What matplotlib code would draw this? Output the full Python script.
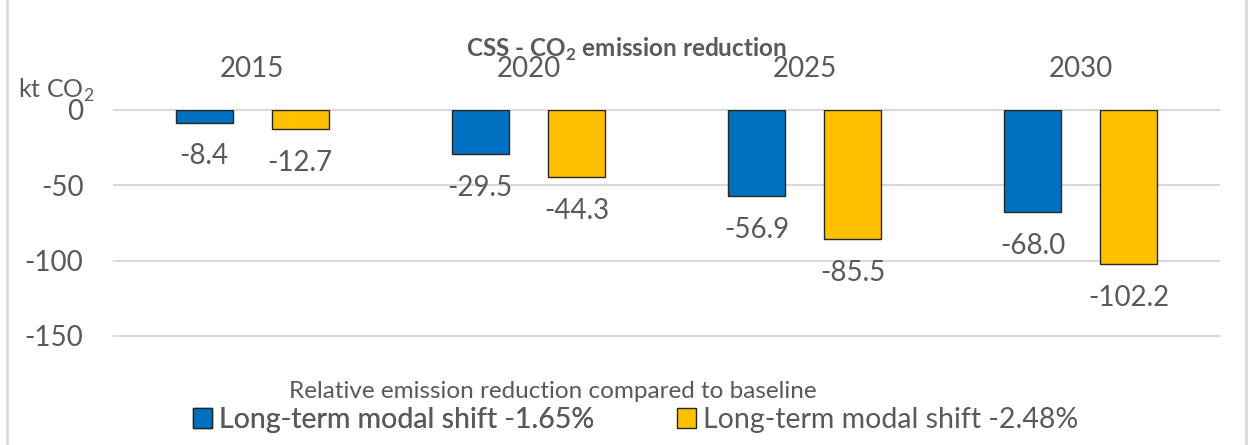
import matplotlib
matplotlib.use("Agg")
import matplotlib.pyplot as plt
from matplotlib.patches import Patch
from matplotlib.lines import Line2D
import numpy as np

# ---- data ----
years = ["2015", "2020", "2025", "2030"]
shift_165 = [-8.4, -29.5, -56.9, -68.0]
shift_248 = [-12.7, -44.3, -85.5, -102.2]
series_names = ["Long-term modal shift -1.65%", "Long-term modal shift -2.48%"]
yticks = [0, -50, -100, -150]

# ---- style ----
plt.rcParams['font.family'] = ['Lato', 'DejaVu Sans']
plt.rcParams['axes.unicode_minus'] = False
plt.rcParams['mathtext.fontset'] = 'custom'
plt.rcParams['mathtext.rm'] = 'Lato'
plt.rcParams['mathtext.bf'] = 'Lato:bold'
TXT = '#595959'
BLUE = '#0070C0'
YELLOW = '#FFC000'
EDGE = '#262626'
GRID = '#d9d9d9'

W, H = 1248, 445
fig = plt.figure(figsize=(W / 100, H / 100), dpi=100)

def fx(px):
    return px / W

def fy(py):
    return 1 - py / H

ax = fig.add_axes([fx(114), fy(336), fx(1219) - fx(114), fy(110) - fy(336)])

x = np.arange(len(years))
bw = 0.206
off = 0.174
b1 = ax.bar(x - off, shift_165, bw, color=BLUE, edgecolor=EDGE, linewidth=1.0, zorder=3)
b2 = ax.bar(x + off, shift_248, bw, color=YELLOW, edgecolor=EDGE, linewidth=1.0, zorder=3)

ax.bar_label(b1, fmt='%.1f', padding=15, fontsize=20, color=TXT)
ax.bar_label(b2, fmt='%.1f', padding=15, fontsize=20, color=TXT)

ax.set_xlim(-0.5, len(years) - 0.5)
ax.set_ylim(-150, 0)
ax.set_yticks(yticks)
ax.set_yticklabels([str(v) for v in yticks])
ax.tick_params(axis='y', length=0, pad=22, labelsize=20, labelcolor=TXT)

ax.xaxis.tick_top()
ax.set_xticks(x)
ax.set_xticklabels(years)
ax.tick_params(axis='x', length=0, pad=20, labelsize=20, labelcolor=TXT)

for s in ax.spines.values():
    s.set_visible(False)
ax.set_axisbelow(True)
ax.yaxis.grid(True, color=GRID, linewidth=1.5)
for gl in ax.get_ygridlines():
    gl.set_clip_on(False)

# titles
fig.text(fx(626), fy(57), r"CSS - CO$_\mathbf{2}$ emission reduction", ha='center',
         va='baseline', fontsize=17.5, fontweight='bold', color=TXT)
fig.text(fx(18), fy(90), r"kt CO$_2$", ha='left', va='center', fontsize=18, color=TXT)
fig.text(fx(553), fy(398), "Relative emission reduction compared to baseline",
         ha='center', va='baseline', fontsize=17.5, color=TXT)

# legend (two entries placed side by side)
handles = [Patch(facecolor=BLUE, edgecolor=EDGE, linewidth=1.0),
           Patch(facecolor=YELLOW, edgecolor=EDGE, linewidth=1.0)]
starts = [193, 677]
legs = []
for h, name, sx in zip(handles, series_names, starts):
    lg = fig.legend([h], [name], loc='center left', bbox_to_anchor=(fx(sx), fy(420)),
                    frameon=False, fontsize=20.5, handlelength=0.68, handleheight=0.68,
                    handletextpad=0.22, borderpad=0, borderaxespad=0, labelcolor=TXT)
    legs.append(lg)
for lg in legs[:-1]:
    fig.add_artist(lg)

# outer frame lines
fig.add_artist(Line2D([fx(7), fx(7)], [0, 1], color=GRID, linewidth=2))
fig.add_artist(Line2D([fx(1246), fx(1246)], [0, 1], color=GRID, linewidth=2))

fig.savefig("out.png", dpi=100)
